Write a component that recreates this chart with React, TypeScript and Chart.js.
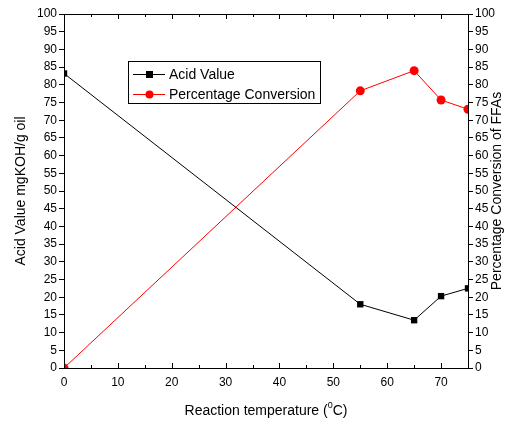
import React, { useEffect, useRef } from "react";
import { Chart, registerables } from "chart.js";

Chart.register(...registerables);

const temps = [0, 55, 65, 70, 75];
const acidValue = [83.2, 18, 13.5, 20.3, 22.5];
const conversion = [0, 78.3, 84, 75.7, 73.1];
const xMajorTicks = [0, 10, 20, 30, 40, 50, 60, 70];
const xTitle = "Reaction temperature (";
const xTitleSup = "0";
const xTitleEnd = "C)";
const yLeftTitle = "Acid Value mgKOH/g oil";
const yRightTitle = "Percentage Conversion of FFAs";
const legendLabels = ["Acid Value", "Percentage Conversion"];

const FONT = "'Liberation Sans', Arial, sans-serif";

const decor = {
  id: "decor",
  afterDraw(chart: any) {
    const ctx = chart.ctx;
    const { left, right, top, bottom } = chart.chartArea;
    const xs = chart.scales.x;
    ctx.save();
    ctx.strokeStyle = "#000";
    ctx.lineWidth = 1;
    // frame
    ctx.beginPath();
    ctx.moveTo(Math.round(left) + 0.5, Math.round(top) + 0.5);
    ctx.lineTo(Math.round(right) + 0.5, Math.round(top) + 0.5);
    ctx.stroke();
    // inward x ticks, bottom and top
    for (let v = 0; v < 75; v += 5) {
      const px = Math.round(xs.getPixelForValue(v)) + 0.5;
      const len = v % 10 === 0 ? 5 : 3;
      ctx.beginPath();
      ctx.moveTo(px, bottom);
      ctx.lineTo(px, bottom - len);
      ctx.moveTo(px, top);
      ctx.lineTo(px, top + len);
      ctx.stroke();
    }
    // titles
    ctx.fillStyle = "#000";
    ctx.font = `14px ${FONT}`;
    ctx.textBaseline = "middle";
    const w1 = ctx.measureText(xTitle).width;
    ctx.font = `9px ${FONT}`;
    const w2 = ctx.measureText(xTitleSup).width;
    ctx.font = `14px ${FONT}`;
    const w3 = ctx.measureText(xTitleEnd).width;
    const total = w1 + w2 + w3;
    let tx = (left + right) / 2 - total / 2;
    const ty = 411;
    ctx.textAlign = "left";
    ctx.fillText(xTitle, tx, ty);
    tx += w1;
    ctx.font = `9px ${FONT}`;
    ctx.fillText(xTitleSup, tx, ty - 5);
    tx += w2;
    ctx.font = `14px ${FONT}`;
    ctx.fillText(xTitleEnd, tx, ty);

    const cy = (top + bottom) / 2;
    ctx.textAlign = "center";
    ctx.save();
    ctx.translate(21, cy);
    ctx.rotate(-Math.PI / 2);
    ctx.fillText(yLeftTitle, 0, 0);
    ctx.restore();
    ctx.save();
    ctx.translate(497, cy);
    ctx.rotate(-Math.PI / 2);
    ctx.fillText(yRightTitle, 0, 0);
    ctx.restore();

    // legend
    ctx.strokeStyle = "#000";
    ctx.lineWidth = 1;
    ctx.strokeRect(128.5, 61.5, 192, 42);
    const rows = [
      { y: 74, color: "#000", square: true, label: legendLabels[0] },
      { y: 94, color: "#ff0000", square: false, label: legendLabels[1] },
    ];
    for (const r of rows) {
      ctx.strokeStyle = r.color;
      ctx.fillStyle = r.color;
      ctx.beginPath();
      ctx.moveTo(133, r.y + 0.5);
      ctx.lineTo(165, r.y + 0.5);
      ctx.stroke();
      if (r.square) {
        ctx.fillRect(146, r.y - 3, 7, 7);
      } else {
        ctx.beginPath();
        ctx.arc(149.5, r.y + 0.5, 4, 0, Math.PI * 2);
        ctx.fill();
      }
      ctx.fillStyle = "#000";
      ctx.textAlign = "left";
      ctx.font = `14px ${FONT}`;
      ctx.fillText(r.label, 169, r.y + 1);
    }
    ctx.restore();
  },
};

export default function App() {
  const ref = useRef<HTMLCanvasElement>(null);
  useEffect(() => {
    document.body.style.margin = "0";
    const tickFont = { family: FONT, size: 12 };
    const chart = new Chart(ref.current!, {
      type: "line",
      data: {
        datasets: [
          {
            label: legendLabels[0],
            data: temps.map((t, i) => ({ x: t, y: acidValue[i] })),
            borderColor: "#000",
            backgroundColor: "#000",
            borderWidth: 1,
            pointStyle: "rect",
            pointRadius: 4.5,
            pointBorderWidth: 0,
            yAxisID: "y",
          },
          {
            label: legendLabels[1],
            data: temps.map((t, i) => ({ x: t, y: conversion[i] })),
            borderColor: "#ff0000",
            backgroundColor: "#ff0000",
            borderWidth: 1,
            pointStyle: "circle",
            pointRadius: 4.5,
            pointBorderWidth: 0,
            yAxisID: "y2",
          },
        ],
      },
      options: {
        animation: false,
        responsive: false,
        layout: { padding: { top: 14, left: 0, right: 0, bottom: 0 } },
        plugins: { legend: { display: false }, tooltip: { enabled: false } },
        scales: {
          x: {
            type: "linear",
            position: "bottom",
            min: 0,
            max: 75,
            afterBuildTicks: (s: any) => {
              s.ticks = xMajorTicks.map((v) => ({ value: v }));
            },
            afterFit: (s: any) => {
              s.height = 57;
            },
            grid: { drawOnChartArea: false, drawTicks: false },
            border: { display: true, color: "#000", width: 1 },
            ticks: { color: "#000", font: tickFont, padding: 7, maxRotation: 0 },
          },
          y: {
            type: "linear",
            position: "left",
            min: 0,
            max: 100,
            afterFit: (s: any) => {
              s.width = 64;
            },
            grid: { drawOnChartArea: false, drawTicks: true, tickLength: 5, color: "#000" },
            border: { display: true, color: "#000", width: 1 },
            ticks: { stepSize: 5, color: "#000", font: tickFont, padding: 2 },
          },
          y2: {
            type: "linear",
            position: "right",
            min: 0,
            max: 100,
            afterFit: (s: any) => {
              s.width = 42;
            },
            grid: { drawOnChartArea: false, drawTicks: true, tickLength: 5, color: "#000" },
            border: { display: true, color: "#000", width: 1 },
            ticks: { stepSize: 5, color: "#000", font: tickFont, padding: 2 },
          },
        },
      },
      plugins: [decor],
    });
    return () => chart.destroy();
  }, []);
  return (
    <div style={{ position: "fixed", left: 0, top: 0, width: 510, height: 425, background: "#fff" }}>
      <canvas ref={ref} width={510} height={425} />
    </div>
  );
}
